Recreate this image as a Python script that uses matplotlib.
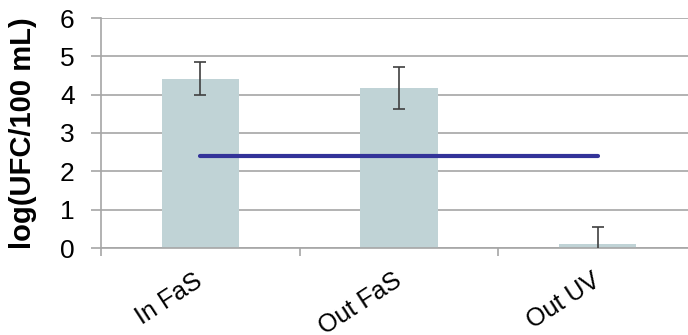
import matplotlib.pyplot as plt
import numpy as np

plt.rcParams['font.family'] = ['Liberation Sans', 'DejaVu Sans']

# data
categories = ['In FaS', 'Out FaS', 'Out UV']
values = [4.42, 4.17, 0.10]
errors = [0.42, 0.55, 0.44]
limit_value = 2.4

fig = plt.figure(figsize=(6.88, 3.35), dpi=100)
ax = fig.add_axes([101 / 688, (335 - 248) / 335, 596 / 688, 230 / 335])

x = np.arange(len(categories))
ax.bar(x, values, width=0.39, color='#c0d3d6', zorder=2)
ax.errorbar(x, values, yerr=errors, fmt='none', ecolor='#404040',
            elinewidth=1.2, capsize=4.5, capthick=1.2, zorder=3)

# horizontal limit line from first to last category
ax.plot([x[0], x[-1]], [limit_value, limit_value], color='#333399',
        linewidth=3, solid_capstyle='round', zorder=4)

ax.set_xlim(-0.5, len(categories) - 0.5)
ax.set_ylim(0, 6)
ax.set_yticks(range(0, 7))
ax.yaxis.grid(True, color='#a6a6a6', linewidth=1.2, zorder=0)
ax.set_axisbelow(True)

ax.set_xticks(np.arange(-0.5, len(categories), 1.0))
ax.set_xticklabels([])
ax.set_xticks(x, minor=True)
ax.set_xticklabels(categories, minor=True, rotation=33, ha='right',
                   va='center', rotation_mode='anchor', fontsize=18)
ax.tick_params(axis='x', which='minor', length=0, pad=22)
ax.tick_params(axis='x', which='major', length=6, color='#a6a6a6', width=1.2)
ax.tick_params(axis='y', length=7, color='#a6a6a6', width=1.2,
               labelsize=19, pad=12)

for side in ['top', 'right']:
    ax.spines[side].set_visible(False)
for side in ['left', 'bottom']:
    ax.spines[side].set_color('#a6a6a6')
    ax.spines[side].set_linewidth(1.2)

ax.set_ylabel('log(UFC/100 mL)', fontsize=21, fontweight='bold')
ax.yaxis.set_label_coords(-64 / 596, 0.5)

fig.savefig('out.png', dpi=100)
